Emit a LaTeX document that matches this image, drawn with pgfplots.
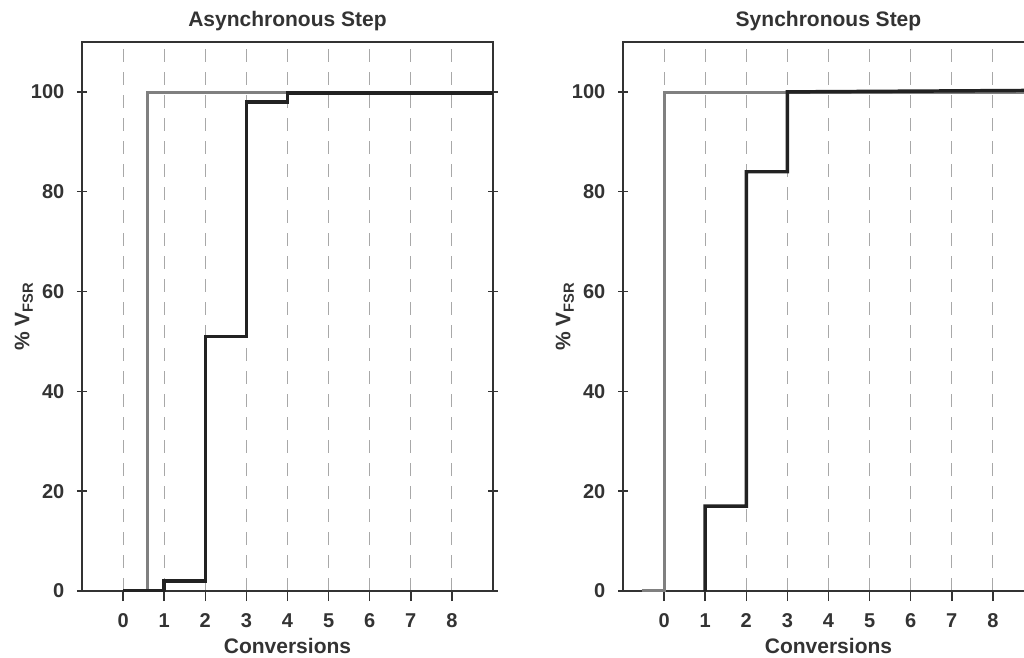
\documentclass[border=0pt]{standalone}
\usepackage{fontspec}
\setmainfont{Liberation Sans}
\usepackage{pgfplots}
\pgfplotsset{compat=1.18}
\definecolor{axcol}{HTML}{333333}
\definecolor{txt}{HTML}{333333}
\definecolor{grayline}{HTML}{808080}
\definecolor{blackline}{HTML}{222222}
\definecolor{gridcol}{HTML}{A8A8A8}
\pgfplotsset{
  myax/.style={
    scale only axis, width=308.25pt, height=411.75pt,
    xmin=-1, xmax=9, ymin=0, ymax=110,
    xtick={0,...,8}, ytick={0,20,...,100},
    xtick pos=left, ytick pos=both,
    tick align=center, major tick length=7.5pt,
    xtick style={yshift=-3.75pt},
    tick style={axcol, line width=1.1pt},
    axis line style={axcol, line width=1.5pt},
    xmajorgrids,
    major grid style={gridcol, line width=0.8pt, dash pattern=on 9.75pt off 7.5pt},
    /pgf/number format/assume math mode=true,
    tick label style={font=\fontsize{15}{18}\selectfont\bfseries, text=txt},
    xticklabel style={yshift=-9.5pt},
    yticklabel style={xshift=-6pt},
    label style={font=\fontsize{15.75}{18}\selectfont\bfseries, text=txt},
    xlabel style={yshift=-1pt},
    ylabel style={yshift=-8.5pt},
    title style={font=\fontsize{15.75}{18}\selectfont\bfseries, text=txt, yshift=-1pt},
    ylabel={\% V\textsubscript{FSR}},
    xlabel={Conversions},
  }
}
\begin{document}
\begin{tikzpicture}
\begin{axis}[myax, at={(61.5pt,49.5pt)}, anchor=south west, title={Asynchronous Step}]
\addplot[grayline, line width=2.3pt, line join=miter] coordinates {(0,0) (0.6,0) (0.6,99.8) (9,99.8)};
\addplot[blackline, line width=2.6pt, line join=miter] coordinates {(0,0) (1,0) (1,2) (2,2) (2,51) (3,51) (3,98) (4,98) (4,99.8) (9,99.8)};
\end{axis}
\begin{axis}[myax, at={(467.25pt,49.5pt)}, anchor=south west, title={Synchronous Step}]
\addplot[grayline, line width=2.3pt, line join=miter] coordinates {(-0.55,0) (0,0) (0,99.8) (9,99.8)};
\addplot[blackline, line width=2.6pt, line join=miter] coordinates {(1,0) (1,17) (2,17) (2,84) (3,84) (3,100) (9,100.3)};
\end{axis}
\pgfresetboundingbox
\useasboundingbox (0,0) rectangle (768pt,492.75pt);
\end{tikzpicture}
\end{document}
